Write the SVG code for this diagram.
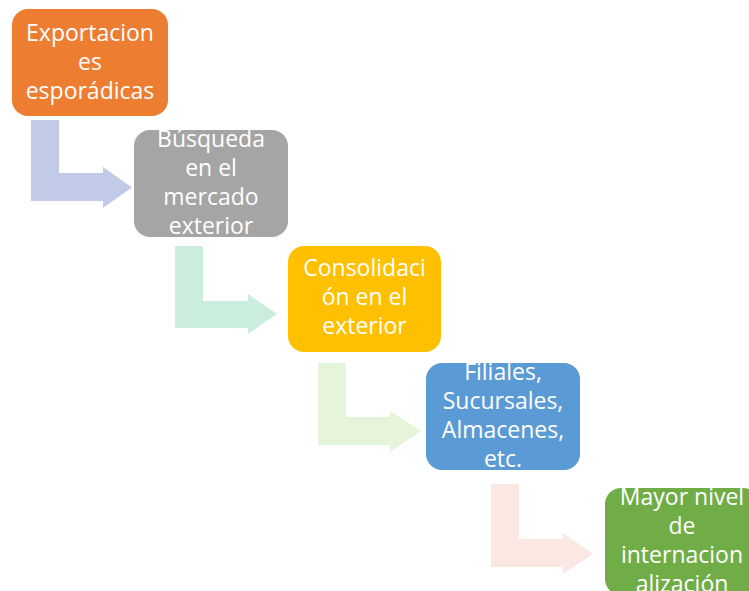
<svg xmlns="http://www.w3.org/2000/svg" width="749" height="591" viewBox="0 0 749 591">
  <style>
    .box { stroke: none; }
    .lbl { font-family: "Open Sans", "Noto Sans", "Liberation Sans", sans-serif; font-size: 23px; fill: #FFFFFF; text-anchor: middle; }
  </style>
  <rect width="749" height="591" fill="#FFFFFF"/>
  <g id="connectors">
    <path d="M31,120 H59 V173 H103 V167 L132,187.5 L103,208 V201 H31 Z" fill="#C1CBE7"/>
    <path d="M175,246 H203 V301 H248 V294 L277,314 L248,334 V328 H175 Z" fill="#CAEDDE"/>
    <path d="M318,363 H346 V417 H390 V411 L421,431 L390,452 V445 H318 Z" fill="#E6F4D9"/>
    <path d="M491,484 H519 V539 H563 V533 L593,554 L563,574 V567 H491 Z" fill="#FBE8E2"/>
  </g>
  <g id="node1">
    <rect class="box" x="12" y="9" width="156" height="107" rx="16" fill="#ED7D31"/>
    <text class="lbl" x="90" y="41">Exportacion</text>
    <text class="lbl" x="90" y="70">es</text>
    <text class="lbl" x="90" y="99">esporádicas</text>
  </g>
  <g id="node2">
    <rect class="box" x="134" y="130" width="154" height="107" rx="16" fill="#A5A5A5"/>
    <text class="lbl" x="211" y="147">Búsqueda</text>
    <text class="lbl" x="211" y="176">en el</text>
    <text class="lbl" x="211" y="205">mercado</text>
    <text class="lbl" x="211" y="234">exterior</text>
  </g>
  <g id="node3">
    <rect class="box" x="288" y="246" width="153" height="106" rx="16" fill="#FFC000"/>
    <text class="lbl" x="364.5" y="276">Consolidaci</text>
    <text class="lbl" x="364.5" y="305">ón en el</text>
    <text class="lbl" x="364.5" y="334">exterior</text>
  </g>
  <g id="node4">
    <rect class="box" x="426" y="363" width="154" height="107" rx="16" fill="#5B9BD5"/>
    <text class="lbl" x="503" y="380">Filiales,</text>
    <text class="lbl" x="503" y="409">Sucursales,</text>
    <text class="lbl" x="503" y="438">Almacenes,</text>
    <text class="lbl" x="503" y="467">etc.</text>
  </g>
  <g id="node5">
    <rect class="box" x="605" y="488" width="154" height="107" rx="16" fill="#70AD47"/>
    <text class="lbl" x="682" y="505">Mayor nivel</text>
    <text class="lbl" x="682" y="534">de</text>
    <text class="lbl" x="682" y="563">internacion</text>
    <text class="lbl" x="682" y="592">alización</text>
  </g>
</svg>
